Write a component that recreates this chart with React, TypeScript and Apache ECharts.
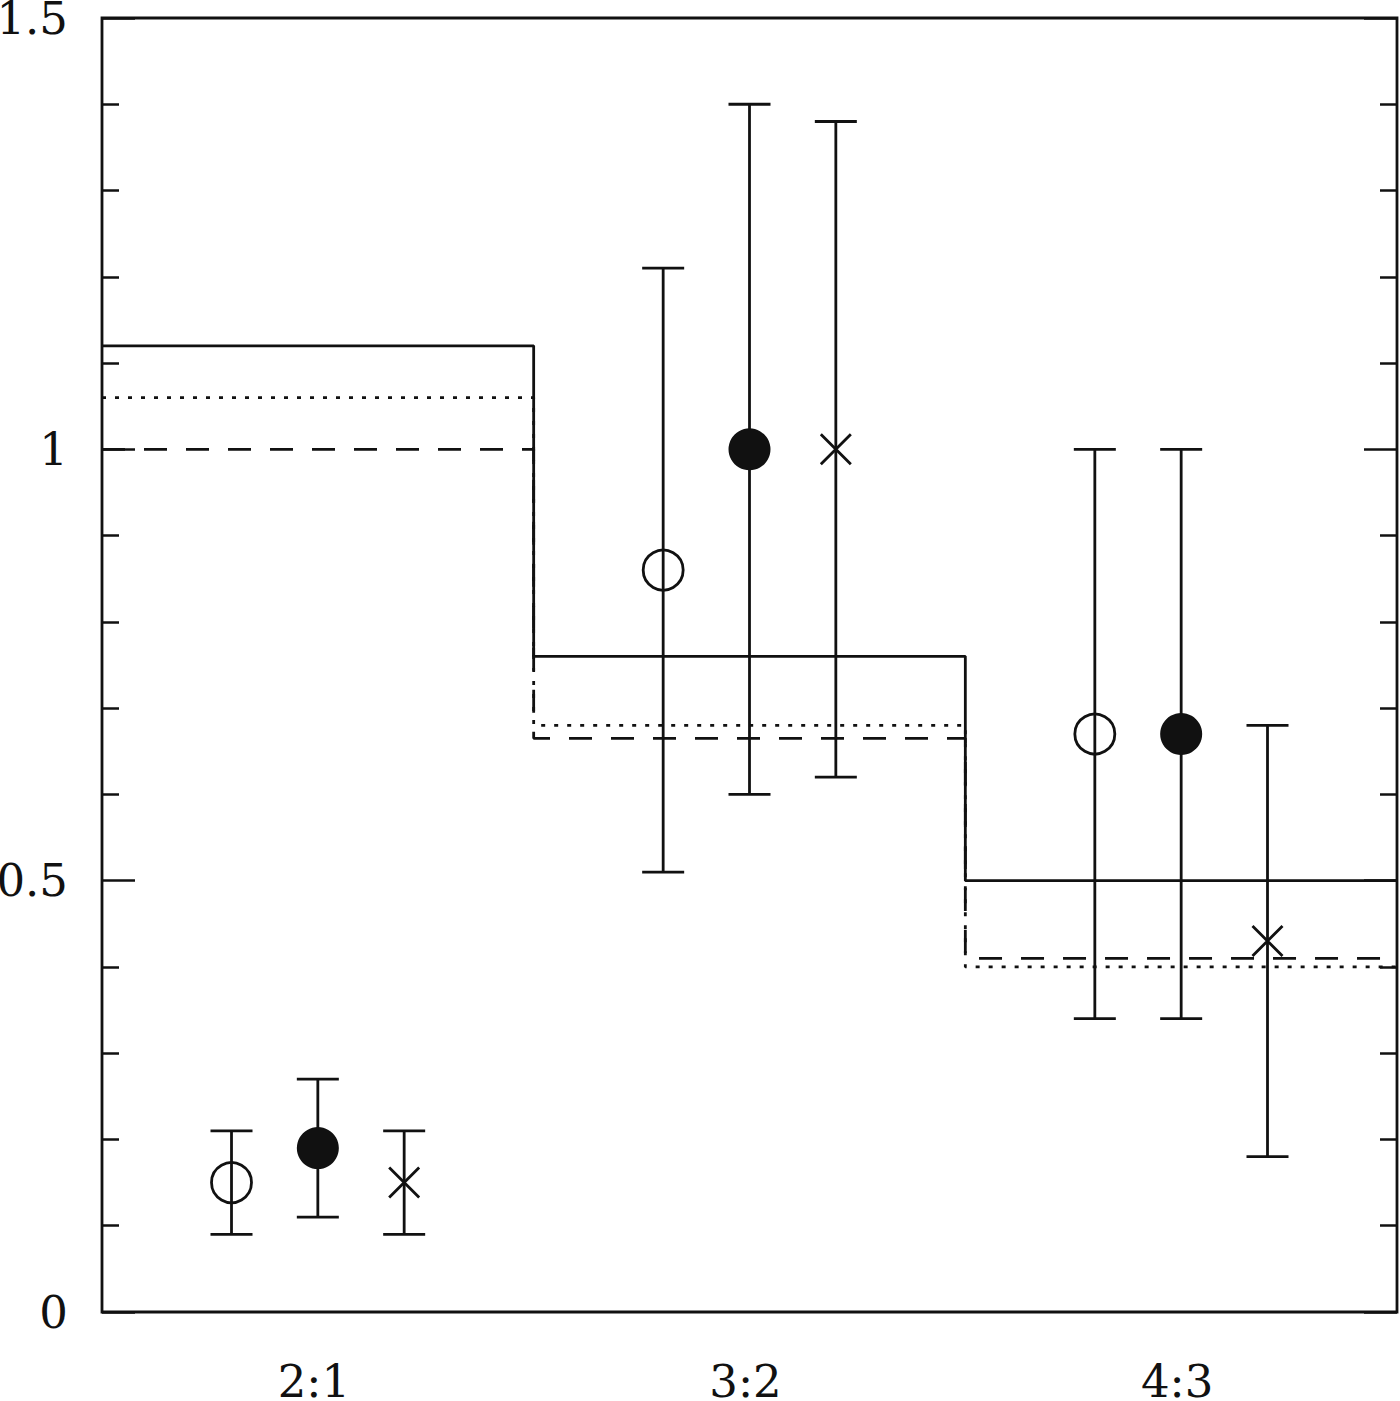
import React, { useEffect, useRef } from "react";
import * as echarts from "echarts";

const categories = ["2:1", "3:2", "4:3"];

const openVals = [0.15, 0.86, 0.67];
const openLow = [0.09, 0.51, 0.34];
const openHigh = [0.21, 1.21, 1.0];

const filledVals = [0.19, 1.0, 0.67];
const filledLow = [0.11, 0.6, 0.34];
const filledHigh = [0.27, 1.4, 1.0];

const crossVals = [0.15, 1.0, 0.43];
const crossLow = [0.09, 0.62, 0.18];
const crossHigh = [0.21, 1.38, 0.68];

const solidStep = [1.12, 0.76, 0.5];
const dottedStep = [1.06, 0.68, 0.4];
const dashedStep = [1.0, 0.665, 0.41];

const yTickLabels = ["0", "0.5", "1", "1.5"];

const INK = "#111";
const FONT = "DejaVu Serif";
const LW = 2.8;

function stepData(vals: number[]) {
  const d = vals.map((v, i) => [i, v]);
  d.push([vals.length, vals[vals.length - 1]]);
  return d;
}

function errData(offset: number, low: number[], high: number[]) {
  return low.map((l, i) => [i + offset, l, high[i]]);
}

function ptData(offset: number, vals: number[]) {
  return vals.map((v, i) => [i + offset, v]);
}

const errorRender = (params: any, api: any) => {
  const x = api.value(0);
  const lo = api.coord([x, api.value(1)]);
  const hi = api.coord([x, api.value(2)]);
  const cap = 21;
  const style = { stroke: INK, lineWidth: LW };
  return {
    type: "group",
    children: [
      { type: "line", shape: { x1: lo[0], y1: lo[1], x2: hi[0], y2: hi[1] }, style },
      { type: "line", shape: { x1: lo[0] - cap, y1: lo[1], x2: lo[0] + cap, y2: lo[1] }, style },
      { type: "line", shape: { x1: hi[0] - cap, y1: hi[1], x2: hi[0] + cap, y2: hi[1] }, style },
    ],
  };
};

export default function App() {
  const ref = useRef<HTMLDivElement>(null);
  useEffect(() => {
    if (!ref.current) return;
    const chart = echarts.init(ref.current, null, { renderer: "svg" });
    const yAxisCommon = {
      type: "value",
      min: 0,
      max: 1.5,
      interval: 0.5,
      splitLine: { show: false },
      axisLine: { show: false },
      axisTick: { show: true, inside: true, length: 33, lineStyle: { color: INK, width: 2.5 } },
      minorTick: { show: true, splitNumber: 5, length: 17, lineStyle: { color: INK, width: 2.5 } },
    };
    chart.setOption({
      animation: false,
      backgroundColor: "#fff",
      grid: {
        left: 102,
        right: 3,
        top: 18,
        bottom: 89,
        outerBoundsMode: "none",
        containLabel: false,
        show: true,
        borderColor: INK,
        borderWidth: 2.8,
        backgroundColor: "transparent",
      },
      xAxis: {
        type: "value",
        min: 0,
        max: 3,
        interval: 0.5,
        splitLine: { show: false },
        axisLine: { show: false },
        axisTick: { show: false },
        axisLabel: {
          margin: 54,
          fontFamily: FONT,
          fontSize: 45,
          lineHeight: 30,
          padding: [0, 8, 0, 0],
          color: INK,
          formatter: (v: number) => {
            const i = v - 0.5;
            if (Math.abs(i - Math.round(i)) < 1e-6 && categories[Math.round(i)]) return categories[Math.round(i)];
            return "";
          },
        },
      },
      yAxis: [
        {
          ...yAxisCommon,
          position: "left",
          axisLabel: {
            margin: 34,
            fontFamily: FONT,
            fontSize: 45,
            lineHeight: 30,
            color: INK,
            formatter: (v: number) => yTickLabels[Math.round(v / 0.5)] ?? "",
          },
        },
        {
          ...yAxisCommon,
          position: "right",
          axisLabel: { show: false },
        },
      ],
      series: [
        {
          type: "line",
          step: "end",
          data: stepData(dashedStep),
          symbol: "none",
          lineStyle: { color: INK, width: LW, type: [23, 19] },
          z: 2,
        },
        {
          type: "line",
          step: "end",
          data: stepData(dottedStep),
          symbol: "none",
          lineStyle: { color: INK, width: LW, type: [4, 9] },
          z: 2,
        },
        {
          type: "line",
          step: "end",
          data: stepData(solidStep),
          symbol: "none",
          lineStyle: { color: INK, width: LW, type: "solid" },
          z: 3,
        },
        { type: "custom", renderItem: errorRender, data: errData(0.3, openLow, openHigh), z: 4 },
        { type: "custom", renderItem: errorRender, data: errData(0.5, filledLow, filledHigh), z: 4 },
        { type: "custom", renderItem: errorRender, data: errData(0.7, crossLow, crossHigh), z: 4 },
        {
          type: "scatter",
          data: ptData(0.3, openVals),
          symbol: "circle",
          symbolSize: 40,
          itemStyle: { color: "none", borderColor: INK, borderWidth: LW, opacity: 1 },
          z: 5,
        },
        {
          type: "scatter",
          data: ptData(0.5, filledVals),
          symbol: "circle",
          symbolSize: 42,
          itemStyle: { color: INK, opacity: 1 },
          z: 5,
        },
        {
          type: "scatter",
          data: ptData(0.7, crossVals),
          symbol: "path://M0,0L10,10M10,0L0,10",
          symbolSize: 30,
          itemStyle: { color: "none", borderColor: INK, borderWidth: LW, opacity: 1 },
          z: 5,
        },
      ],
    });
    return () => chart.dispose();
  }, []);
  return (
    <div
      ref={ref}
      style={{ position: "absolute", left: 0, top: 0, width: 1400, height: 1401 }}
    />
  );
}
